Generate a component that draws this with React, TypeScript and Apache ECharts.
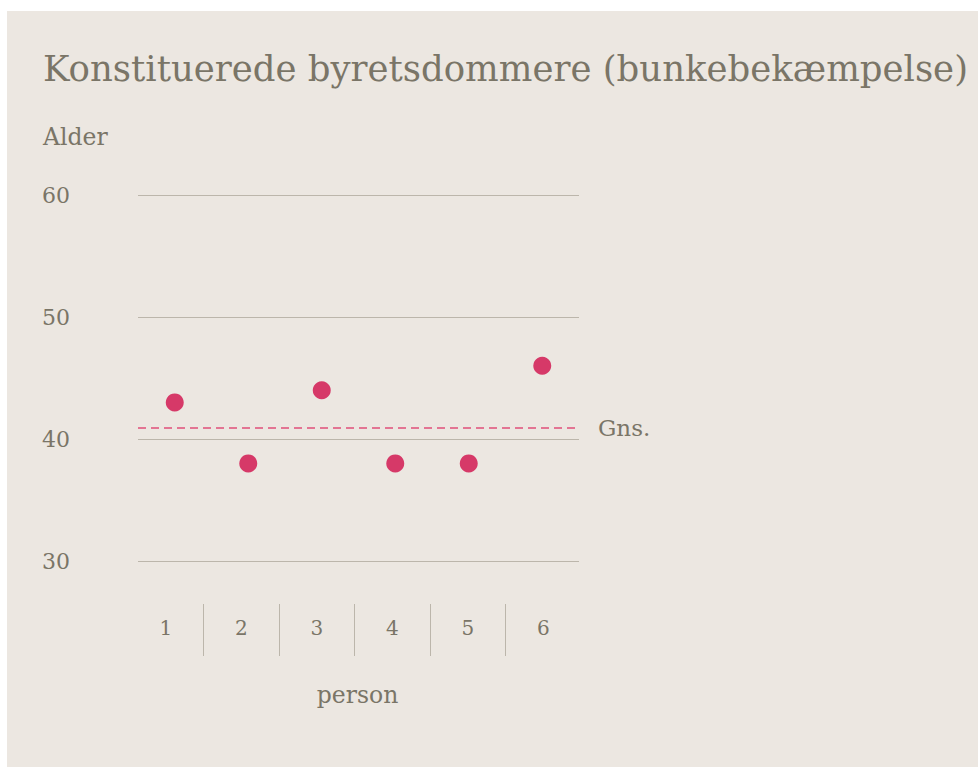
import React, { useEffect, useRef } from "react";
import * as echarts from "echarts";

const titleText = "Konstituerede byretsdommere (bunkebekæmpelse)";
const categories = ["1", "2", "3", "4", "5", "6"];
const ages = [43, 38, 44, 38, 38, 46];
const average = 40.9;
const yMin = 30;
const yMax = 60;
const yStep = 10;

const FONT = "DejaVu Serif";
const TEXT = "#7a7567";
const GRID = "#bcb6ab";
const BG = "#ece7e1";
const DOT = "#d63968";

export default function App() {
  const ref = useRef<HTMLDivElement>(null);
  useEffect(() => {
    if (!ref.current) return;
    const chart = echarts.init(ref.current, undefined, { renderer: "svg" });
    chart.setOption({
      animation: false,
      backgroundColor: "#ffffff",
      textStyle: { fontFamily: FONT, color: TEXT },
      graphic: [
        { type: "rect", z: -10, silent: true, shape: { x: 7, y: 11, width: 971, height: 756 }, style: { fill: BG } },
        { type: "text", left: 43, top: 125, style: { text: "Alder", fontFamily: FONT, fontSize: 23.5, fill: TEXT } },
      ],
      title: {
        text: titleText,
        left: 43,
        top: 50,
        padding: 0,
        textStyle: { fontFamily: FONT, fontSize: 35.5, fontWeight: "normal", color: TEXT },
      },
      grid: [
        { left: 138, right: 399, top: 195, bottom: 206 },
        { left: 128, right: 397, top: 604, bottom: 111 },
      ],
      xAxis: [
        {
          gridIndex: 0,
          type: "category",
          data: categories,
          boundaryGap: true,
          show: false,
        },
        {
          gridIndex: 1,
          type: "category",
          data: categories,
          boundaryGap: true,
          axisLine: { show: false },
          axisTick: { show: false },
          axisLabel: { margin: -28, verticalAlign: "middle", fontFamily: FONT, fontSize: 20, color: TEXT },
          splitLine: { show: true, showMinLine: false, showMaxLine: false, lineStyle: { color: GRID, width: 1 } },
          name: "person",
          nameLocation: "middle",
          nameGap: 27,
          nameTextStyle: { fontFamily: FONT, fontSize: 23.5, color: TEXT, verticalAlign: "top", padding: [0, 0, 0, 6] },
        },
      ],
      yAxis: [
        {
          gridIndex: 0,
          type: "value",
          min: yMin,
          max: yMax,
          interval: yStep,
          axisLine: { show: false },
          axisTick: { show: false },
          axisLabel: { align: "left", margin: 96, fontFamily: FONT, fontSize: 22, color: TEXT },
          splitLine: { show: true, lineStyle: { color: GRID, width: 1.2 } },
        },
        { gridIndex: 1, type: "value", show: false },
      ],
      series: [
        {
          type: "scatter",
          xAxisIndex: 0,
          yAxisIndex: 0,
          data: ages,
          symbolSize: 18,
          itemStyle: { color: DOT, opacity: 1 },
          markLine: {
            silent: true,
            symbol: "none",
            lineStyle: { color: "#e0507a", type: [8, 5], width: 1.5 },
            label: { show: true, position: "end", distance: 19, formatter: "Gns.", fontFamily: FONT, fontSize: 23, color: TEXT },
            data: [{ yAxis: average }],
          },
        },
      ],
    });
    return () => chart.dispose();
  }, []);
  return (
    <div style={{ position: "absolute", left: 0, top: 0, width: 978, height: 767 }}>
      <div ref={ref} style={{ width: 978, height: 767 }} />
    </div>
  );
}
